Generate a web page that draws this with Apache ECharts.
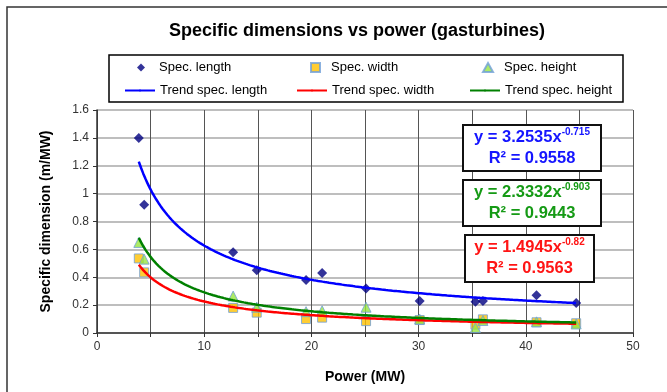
<!DOCTYPE html>
<html>
<head>
<meta charset="utf-8">
<script src="https://cdn.jsdelivr.net/npm/echarts@6/dist/echarts.min.js"></script>
<style>
  html, body { margin: 0; padding: 0; background: #fff; }
  #chart { width: 667px; height: 392px; }
</style>
</head>
<body>
<div id="chart"></div>
<script>
// measured points (MW, m/MW)
const power = [3.9, 4.4, 12.7, 14.9, 19.5, 21.0, 25.1, 30.1, 35.3, 36.0, 41.0, 44.7]
const specLength = [1.40, 0.92, 0.58, 0.45, 0.38, 0.43, 0.32, 0.23, 0.225, 0.23, 0.27, 0.215]
const specWidth = [0.535, 0.435, 0.18, 0.146, 0.10, 0.11, 0.085, 0.093, 0.06, 0.098, 0.077, 0.07]
const specHeight = [0.65, 0.53, 0.265, 0.185, 0.153, 0.16, 0.185, 0.10, 0.04, 0.09, 0.08, 0.065]

// trendline y = a * x^b and R², as printed on the chart
const trendLength = [3.2535, -0.715, 0.9558]
const trendWidth = [1.4945, -0.82, 0.9563]
const trendHeight = [2.3332, -0.903, 0.9443]

const xTicks = [0, 10, 20, 30, 40, 50]

const FONT = 'Liberation Sans, Arial, sans-serif'

function pairs (ys) {
  return power.map((x, i) => [x, ys[i]])
}

// curve of the printed power-law equation across the data range
function trendCurve (coef) {
  const x0 = Math.min(...power)
  const x1 = Math.max(...power)
  const pts = []
  for (let i = 0; i <= 200; i++) {
    const x = x0 + (x1 - x0) * i / 200
    pts.push([x, coef[0] * Math.pow(x, coef[1])])
  }
  return pts
}

function eqBox (coef, color, x, y, w, h) {
  return {
    type: 'group',
    x: x,
    y: y,
    z: 100,
    children: [
      { type: 'rect', z: 100, shape: { x: 0, y: 0, width: w, height: h },
        style: { fill: '#fff', stroke: '#111', lineWidth: 2 } },
      { type: 'text', z: 101, x: w / 2, y: 2,
        style: {
          text: '{a|y = ' + coef[0] + 'x}{s|' + coef[1] + '}\n{a|R² = ' + coef[2] + '}',
          align: 'center',
          verticalAlign: 'top',
          rich: {
            a: { fontFamily: FONT, fontWeight: 'bold', fontSize: 16.5, fill: color, lineHeight: 21 },
            s: { fontFamily: FONT, fontWeight: 'bold', fontSize: 10, fill: color, lineHeight: 21, verticalAlign: 'top' }
          }
        } }
    ]
  }
}

// one legend per entry so each sits in its column / row like the original
function legendItem (name, left, top, w, h, pad) {
  return {
    left: left,
    top: top,
    itemWidth: w,
    itemHeight: h,
    data: [name],
    textStyle: { fontFamily: FONT, fontSize: 13, color: '#000', padding: [0, 0, 0, pad] }
  }
}

const chart = echarts.init(document.getElementById('chart'))

const option = {
  animation: false,
  title: {
    text: 'Specific dimensions vs power (gasturbines)',
    left: 164,
    top: 17,
    textStyle: { fontFamily: FONT, fontSize: 18, fontWeight: 'bold', color: '#000' }
  },
  legend: [
    legendItem('Spec. length', 132, 56, 8, 8, 9),
    legendItem('Spec. width', 305, 56, 9, 9, 6),
    legendItem('Spec. height', 477, 56, 10, 9, 6),
    legendItem('Trend spec. length', 119, 79, 30, 2.5, 0),
    legendItem('Trend spec. width', 291, 79, 30, 2.5, 0),
    legendItem('Trend spec. height', 464, 79, 30, 2.5, 0)
  ],
  grid: { left: 97, right: 34, top: 110, bottom: 59 },
  xAxis: {
    type: 'value',
    min: 0,
    max: 50,
    interval: 5,
    name: 'Power (MW)',
    nameLocation: 'middle',
    nameGap: 37,
    nameTextStyle: { fontFamily: FONT, fontSize: 14, fontWeight: 'bold', color: '#000' },
    axisLine: { lineStyle: { color: '#333', width: 1.5 } },
    axisTick: { show: true, length: 4, lineStyle: { color: '#333' } },
    axisLabel: {
      fontFamily: FONT, fontSize: 12, color: '#333', margin: 8,
      formatter: v => xTicks.indexOf(v) >= 0 ? String(v) : ''
    },
    splitLine: { show: true, lineStyle: { color: '#555', width: 1 } }
  },
  yAxis: {
    type: 'value',
    min: 0,
    max: 1.6,
    interval: 0.2,
    name: 'Specific dimension (m/MW)',
    nameLocation: 'middle',
    nameGap: 44,
    nameTextStyle: { fontFamily: FONT, fontSize: 14, fontWeight: 'bold', color: '#000' },
    axisLine: { show: true, lineStyle: { color: '#333', width: 1.5 } },
    axisTick: { show: true, length: 4, lineStyle: { color: '#333' } },
    axisLabel: {
      fontFamily: FONT, fontSize: 12, color: '#333', margin: 8,
      formatter: v => String(Math.round(v * 10) / 10)
    },
    splitLine: { show: true, lineStyle: { color: '#a8a8a8', width: 1.5 } }
  },
  series: [
    {
      name: 'Spec. length', type: 'scatter', symbol: 'diamond', symbolSize: 10,
      itemStyle: { color: '#000080' }, data: pairs(specLength), z: 3
    },
    {
      name: 'Spec. width', type: 'scatter', symbol: 'rect', symbolSize: 9,
      itemStyle: { color: '#ffc000', borderColor: '#6f9fd8', borderWidth: 1 }, data: pairs(specWidth), z: 3
    },
    {
      name: 'Spec. height', type: 'scatter', symbol: 'triangle', symbolSize: 10,
      itemStyle: { color: '#99e640', borderColor: '#6f9fd8', borderWidth: 1 }, data: pairs(specHeight), z: 3
    },
    {
      name: 'Trend spec. length', type: 'line', symbol: 'none', data: trendCurve(trendLength),
      lineStyle: { color: '#0000ff', width: 2.5 }, itemStyle: { color: '#0000ff' }, z: 4
    },
    {
      name: 'Trend spec. width', type: 'line', symbol: 'none', data: trendCurve(trendWidth),
      lineStyle: { color: '#ff0000', width: 2.5 }, itemStyle: { color: '#ff0000' }, z: 4
    },
    {
      name: 'Trend spec. height', type: 'line', symbol: 'none', data: trendCurve(trendHeight),
      lineStyle: { color: '#008000', width: 2.5 }, itemStyle: { color: '#008000' }, z: 4
    }
  ],
  graphic: [
    { type: 'rect', shape: { x: 7, y: 7, width: 700, height: 400 },
      style: { fill: 'none', stroke: '#333', lineWidth: 1.5 }, silent: true },
    { type: 'rect', shape: { x: 109, y: 55, width: 514, height: 47 },
      style: { fill: 'none', stroke: '#000', lineWidth: 1.5 }, silent: true },
    eqBox(trendLength, '#1515ff', 463, 125, 138, 46),
    eqBox(trendHeight, '#159a15', 463, 180, 138, 46),
    eqBox(trendWidth, '#ff1515', 465, 235, 129, 47)
  ]
}

chart.setOption(option)
</script>
</body>
</html>
